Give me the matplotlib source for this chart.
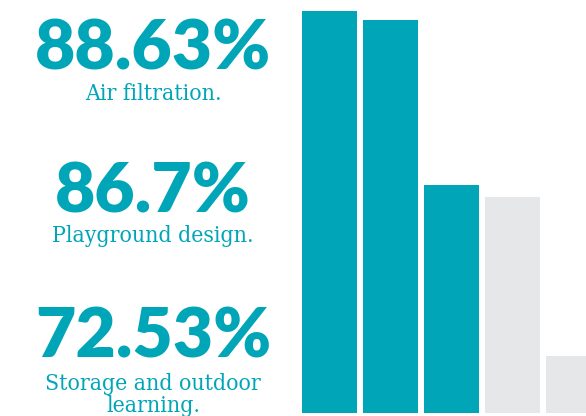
import matplotlib
matplotlib.use("Agg")
import matplotlib.pyplot as plt

# bar values
bar_values = [88.63, 86.7, 50.3, 47.6, 12.6]
bar_colors = ["#00A6B8", "#00A6B8", "#00A6B8", "#E6E7E8", "#E6E7E8"]

# highlighted numbers and their captions
big_numbers = ["88.63%", "86.7%", "72.53%"]
captions = [["Air filtration."], ["Playground design."],
            ["Storage and outdoor", "learning."]]

teal = "#00A6B8"
W, H = 586, 416

fig = plt.figure(figsize=(W / 100, H / 100), dpi=100)

# bar axes: left edge of first bar at x=302px, baseline at y=413px, tallest bar top at 11px
width = 55 / 61
x0 = 302
ax = fig.add_axes([x0 / W, (H - 413) / H, (W - x0) / W, 402 / H])
ax.bar(range(len(bar_values)), bar_values, width=width, color=bar_colors)
ax.set_xlim(-width / 2, -width / 2 + (W - x0) / 61)
ax.set_ylim(0, bar_values[0])
ax.axis("off")

num_baselines = [70, 213, 358]
cap_baselines = [100, 242, 390]
cx = 153
for num, cap, nb, cb in zip(big_numbers, captions, num_baselines, cap_baselines):
    fig.text(cx / W, 1 - nb / H, num, ha="center", va="baseline",
             fontsize=50, fontweight="heavy", family="Lato", color=teal)
    for i, line in enumerate(cap):
        fig.text(cx / W, 1 - (cb + 22 * i) / H, line, ha="center", va="baseline",
                 fontsize=16.5, family="DejaVu Serif", fontstretch="condensed",
                 color=teal)

fig.savefig("out.png", dpi=100)
